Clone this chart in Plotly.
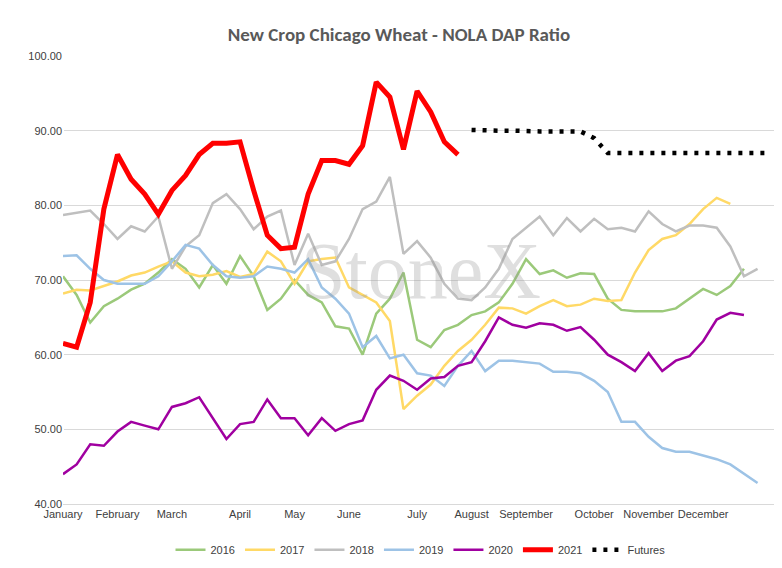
import plotly.graph_objects as go

months = ['January', 'February', 'March', 'April', 'May', 'June', 'July',
          'August', 'September', 'October', 'November', 'December']
month_weeks = [0, 4, 8, 13, 17, 21, 26, 30, 34, 39, 43, 47]

y2016 = [70.5, 68, 64.3, 66.5, 67.5, 68.7, 69.5, 71, 72.8, 71.5, 69, 72, 69.5, 73.2, 70.5, 66,
         67.5, 70, 68, 67, 63.8, 63.5, 60, 65.5, 67.5, 71, 62, 61, 63.3, 64, 65.3, 65.8, 67,
         69.5, 72.8, 70.8, 71.3, 70.3, 70.9, 70.8, 67.5, 66, 65.8, 65.8, 65.8, 66.2, 67.5,
         68.8, 68, 69.2, 71.5]
y2017 = [68.2, 68.7, 68.6, 69.2, 69.8, 70.6, 71, 71.8, 72.5, 71, 70.5, 70.7, 71.2, 70.4, 70.8,
         73.8, 72.5, 69.5, 72.5, 72.8, 73, 69, 68, 67, 64.5, 52.7, 54.5, 56, 58.5, 60.5, 62, 64,
         66.3, 66.2, 65.5, 66.5, 67.3, 66.5, 66.7, 67.5, 67.2, 67.3, 71, 74, 75.5, 76, 77.5,
         79.5, 81, 80.2]
y2018 = [78.7, 79, 79.3, 77.5, 75.5, 77.2, 76.5, 78.5, 71.5, 74.5, 76, 80.3, 81.5, 79.5, 76.8,
         78.5, 79.3, 72, 76.2, 72, 72.5, 75.5, 79.5, 80.5, 83.8, 73.5, 75.2, 73, 69.5, 67.5,
         67.3, 69, 71.5, 75.5, 77, 78.5, 76, 78.3, 76.5, 78.2, 76.8, 77, 76.5, 79.2, 77.5, 76.5,
         77.3, 77.3, 77, 74.5, 70.5, 71.5]
y2019 = [73.2, 73.3, 71.5, 70, 69.5, 69.5, 69.5, 70.5, 72.5, 74.7, 74.2, 72, 70.5, 70.3, 70.5,
         71.8, 71.5, 71, 72.8, 69, 67.5, 65.5, 61, 62.5, 59.5, 60, 57.5, 57.2, 55.8, 58.5, 60.5,
         57.8, 59.2, 59.2, 59, 58.8, 57.7, 57.7, 57.5, 56.5, 55, 51, 51, 49, 47.5, 47, 47, 46.5,
         46, 45.3, 44, 42.8]
y2020 = [44, 45.3, 48, 47.8, 49.7, 51, 50.5, 50, 53, 53.5, 54.3, 51.5, 48.7, 50.7, 51, 54, 51.5,
         51.5, 49.2, 51.5, 49.8, 50.7, 51.2, 55.3, 57.2, 56.5, 55.3, 56.8, 57, 58.5, 59, 61.8,
         65, 64, 63.6, 64.2, 64, 63.2, 63.7, 62, 60, 59, 57.8, 60.2, 57.8, 59.2, 59.8, 61.8,
         64.7, 65.6, 65.3]
y2021 = [61.5, 61, 67, 79.5, 86.8, 83.5, 81.5, 78.8, 82, 84, 86.8, 88.3, 88.3, 88.5, 82, 76,
         74.2, 74.4, 81.5, 86, 86, 85.5, 88, 96.5, 94.5, 87.5, 95.3, 92.5, 88.5, 86.8]
futures = [90.1, 90.0, 90.0, 90.0, 89.9, 89.9, 89.9, 89.9, 89.9, 89.0, 87.0, 87.0, 87.0, 87.0,
           87.0, 87.0, 87.0, 87.0, 87.0, 87.0, 87.0, 87.0, 87.0]
futures_start = 30

fig = go.Figure()

series = [
    ('2016', y2016, '#9BC97A'),
    ('2017', y2017, '#FFD966'),
    ('2018', y2018, '#BFBFBF'),
    ('2019', y2019, '#9DC3E6'),
]
for name, ys, color in series:
    fig.add_trace(go.Scatter(x=list(range(len(ys))), y=ys, name=name, mode='lines',
                             line=dict(color=color, width=2.5)))

fig.add_trace(go.Scatter(x=list(range(len(y2020))), y=y2020, name='2020', mode='lines',
                         line=dict(color='#A000A0', width=2.5)))
fig.add_trace(go.Scatter(x=list(range(len(y2021))), y=y2021, name='2021', mode='lines',
                         line=dict(color='#FF0000', width=5)))
fig.add_trace(go.Scatter(x=list(range(futures_start, futures_start + len(futures))), y=futures,
                         name='Futures', mode='lines',
                         line=dict(color='black', width=4.5, dash='4px,7px')))

# StoneX watermark
fig.add_annotation(text='StoneX', xref='paper', yref='paper', x=0.5, y=0.52,
                   showarrow=False, font=dict(size=80, color='rgba(150,150,150,0.3)',
                                              family='Liberation Serif'))

fig.update_layout(
    title=dict(text='<b>New Crop Chicago Wheat - NOLA DAP Ratio</b>', x=0.5, y=0.965,
               font=dict(size=19, color='#595959', family='Calibri, Liberation Sans')),
    width=782, height=568,
    margin=dict(l=55, r=12, t=55, b=63),
    plot_bgcolor='white', paper_bgcolor='white',
    font=dict(family='Liberation Sans', size=11, color='#404040'),
    xaxis=dict(tickvals=month_weeks, ticktext=months, range=[0, 52.5],
               showgrid=False, showline=True, linecolor='#D9D9D9', ticks=''),
    yaxis=dict(range=[40, 100], dtick=10, tickformat='.2f', gridcolor='#D9D9D9',
               zeroline=False),
    legend=dict(orientation='h', x=0.5, xanchor='center', y=-0.07, yanchor='top',
                font=dict(size=11)),
)
fig.update_layout(margin=dict(t=48, b=50))

fig.write_html("out.html")
